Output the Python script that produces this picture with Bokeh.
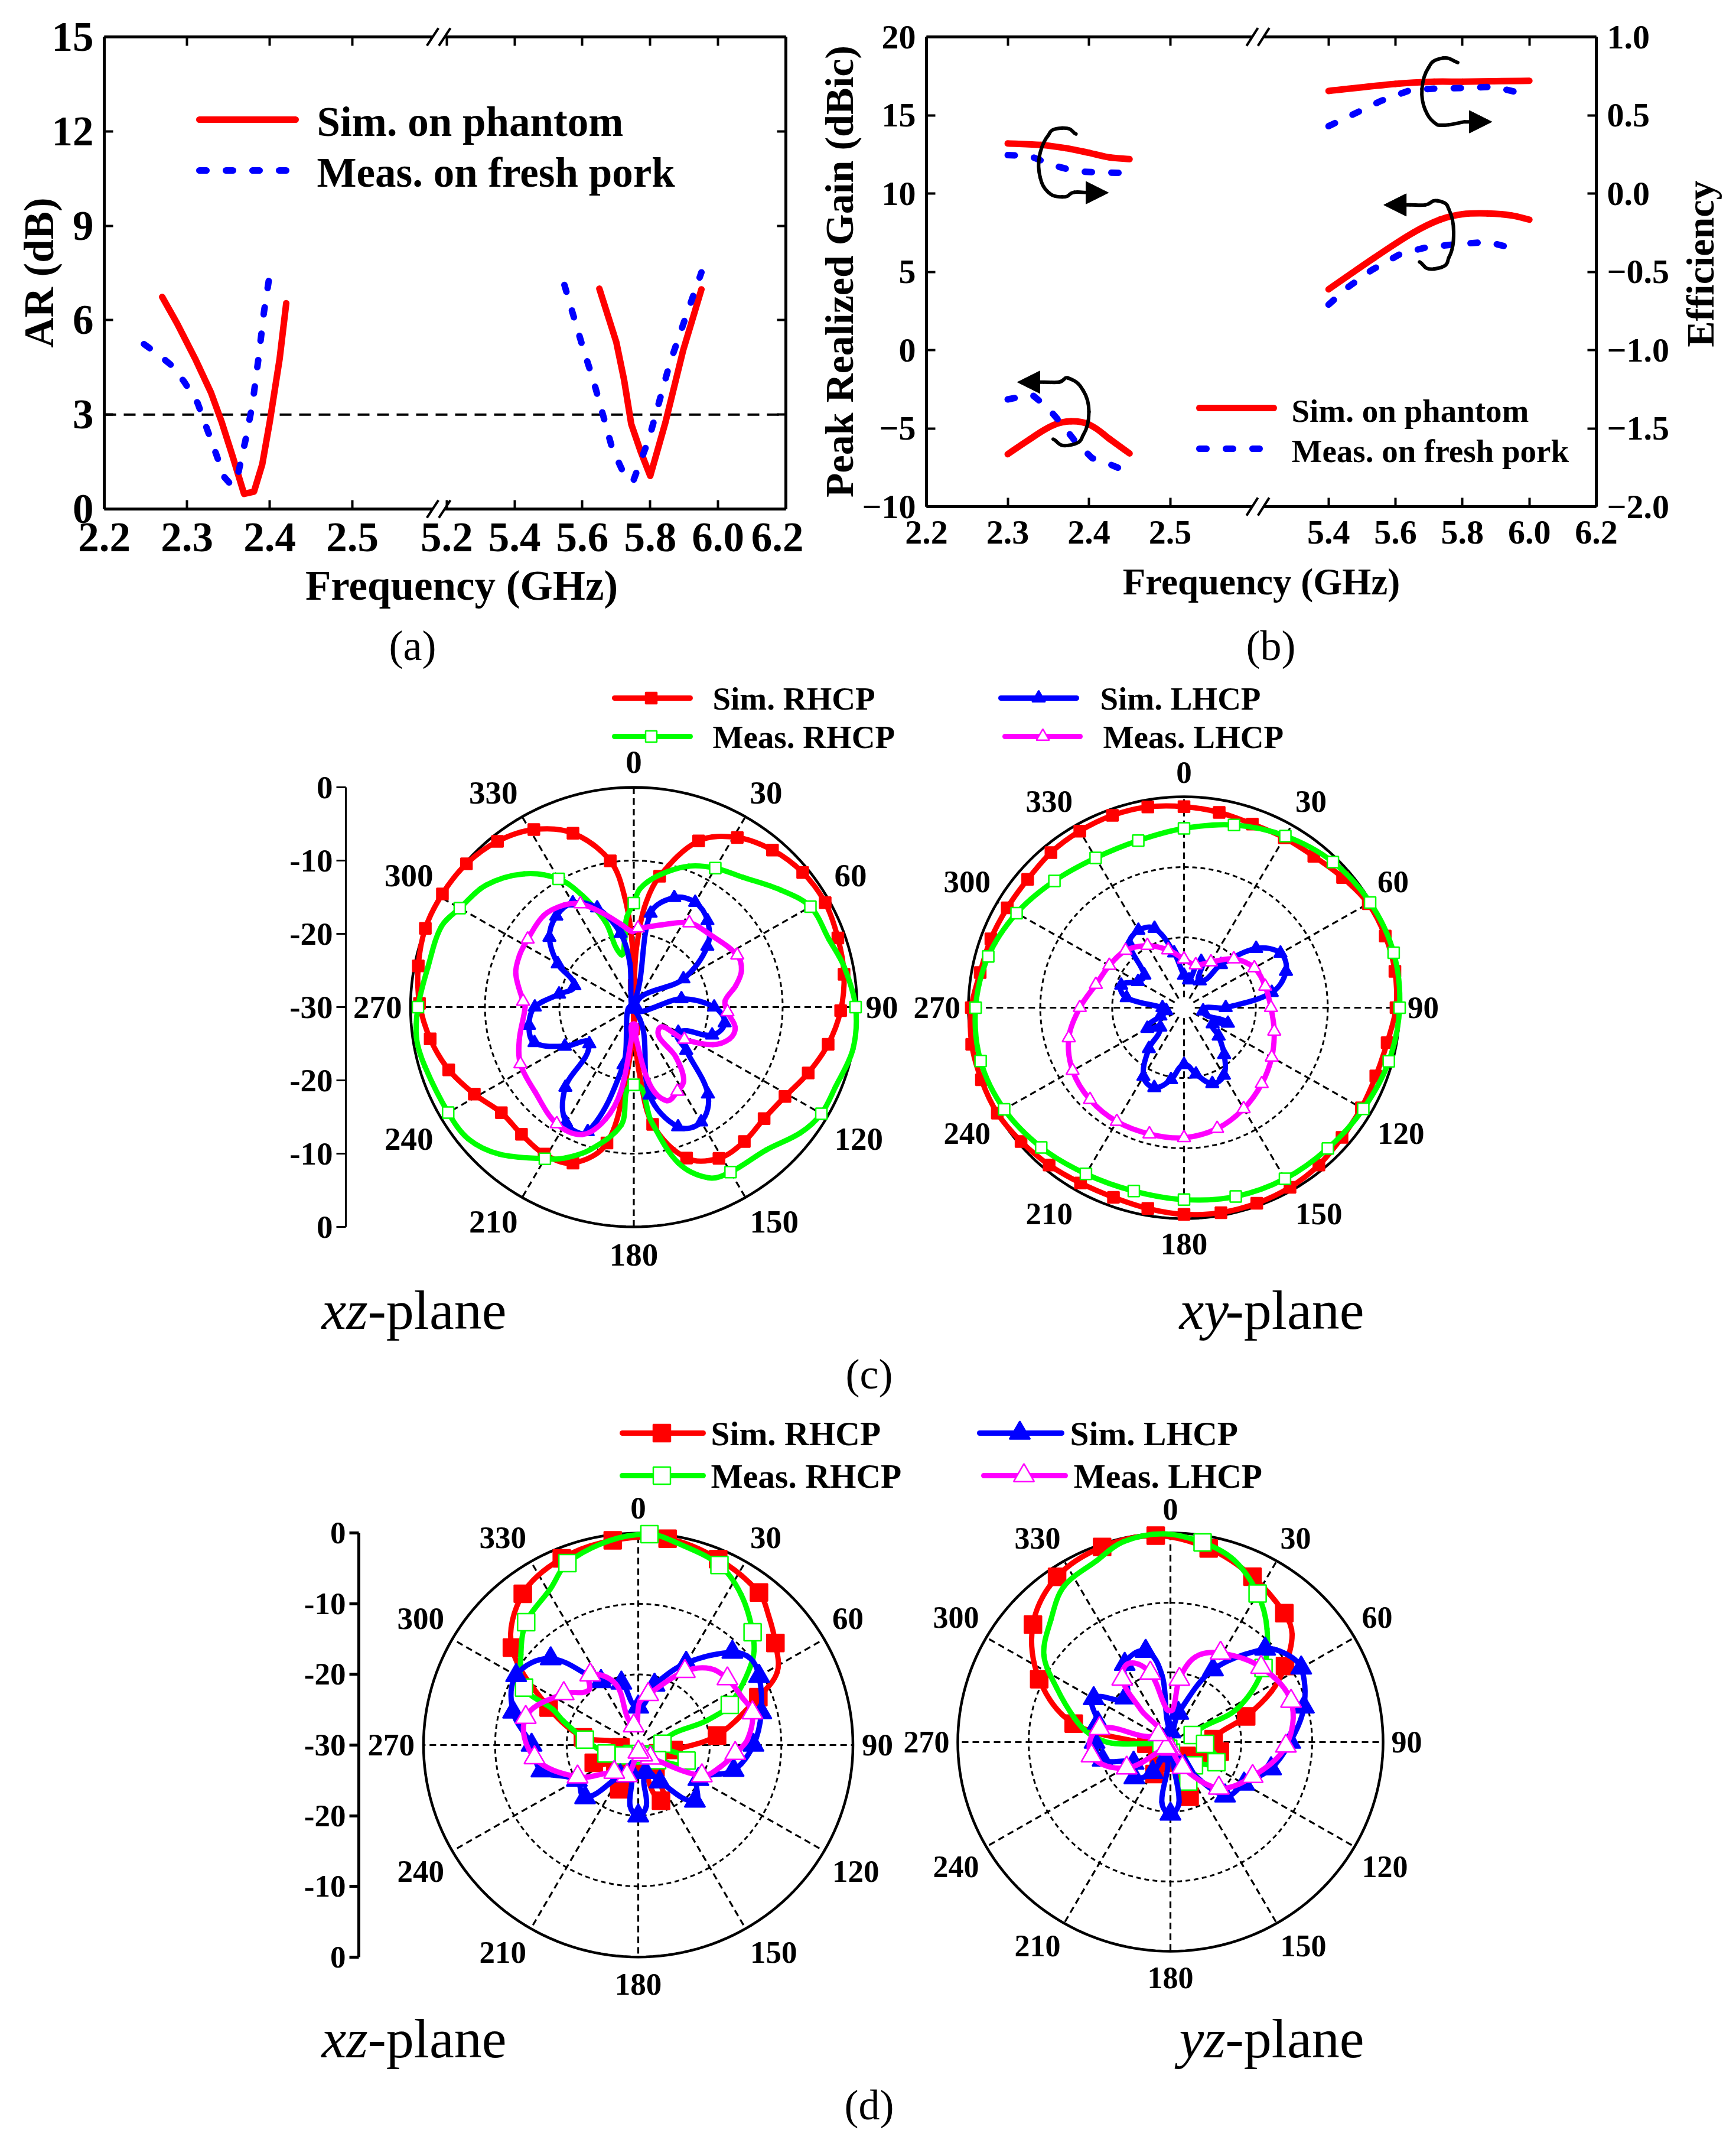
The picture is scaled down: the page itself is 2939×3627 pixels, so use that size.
import numpy as np
from bokeh.plotting import figure
from bokeh.layouts import column, row
from bokeh.models import Range1d, LinearAxis, FixedTicker, Label, Arrow, NormalHead
from bokeh.core.properties import value
from bokeh.embed import file_html
from bokeh.resources import INLINE

FONT = "Liberation Serif"
RED, GREEN, BLUE, MAG = "#ff0000", "#00ff00", "#0000ff", "#ff00ff"

# ---------- panel (a): axial ratio ----------
a_sim_low_f = [2.27, 2.288, 2.31, 2.329, 2.342, 2.355, 2.369, 2.381, 2.391, 2.40, 2.412, 2.42]
a_sim_low_v = [6.74, 5.9, 4.77, 3.7, 2.76, 1.69, 0.48, 0.55, 1.42, 2.76, 4.77, 6.54]
a_mea_low_f = [2.248, 2.266, 2.281, 2.297, 2.313, 2.323, 2.336, 2.345, 2.354, 2.361, 2.371, 2.379, 2.387, 2.393, 2.40]
a_mea_low_v = [5.24, 4.9, 4.57, 4.03, 3.36, 2.63, 1.69, 1.02, 0.75, 1.02, 2.22, 3.3, 4.9, 6.25, 7.45]
a_sim_hi_f = [5.65, 5.70, 5.723, 5.744, 5.772, 5.80, 5.845, 5.897, 5.951]
a_sim_hi_v = [7.0, 5.3, 4.1, 2.7, 1.82, 1.05, 2.76, 5.04, 6.98]
a_mea_hi_f = [5.547, 5.578, 5.604, 5.632, 5.663, 5.687, 5.718, 5.749, 5.768, 5.796, 5.827, 5.858, 5.905, 5.951]
a_mea_hi_v = [7.12, 5.98, 5.04, 4.1, 2.9, 1.96, 1.22, 0.86, 1.42, 2.22, 3.43, 4.64, 6.11, 7.52]
a_xticks_low = [2.2, 2.3, 2.4, 2.5]
a_xticks_hi = [5.2, 5.4, 5.6, 5.8, 6.0, 6.2]
a_yticks = [0, 3, 6, 9, 12, 15]

# ---------- panel (b): gain and efficiency ----------
b_eff_sim_low_f = [2.3, 2.341, 2.371, 2.4, 2.426, 2.45]
b_eff_sim_low_v = [0.32, 0.31, 0.29, 0.26, 0.23, 0.22]
b_eff_mea_low_f = [2.3, 2.327, 2.356, 2.385, 2.415, 2.447]
b_eff_mea_low_v = [0.245, 0.24, 0.18, 0.14, 0.135, 0.13]
b_gain_sim_low_f = [2.3, 2.327, 2.356, 2.378, 2.4, 2.426, 2.45]
b_gain_sim_low_v = [-6.65, -5.7, -4.8, -4.55, -4.75, -5.7, -6.6]
b_gain_mea_low_f = [2.3, 2.33, 2.349, 2.367, 2.385, 2.404, 2.426, 2.444]
b_gain_mea_low_v = [-3.15, -2.85, -3.67, -4.75, -5.95, -6.9, -7.3, -7.7]
b_eff_sim_hi_f = [5.4, 5.6, 5.715, 5.8, 5.893, 6.0]
b_eff_sim_hi_v = [0.655, 0.70, 0.714, 0.714, 0.717, 0.72]
b_eff_mea_hi_f = [5.4, 5.475, 5.555, 5.644, 5.715, 5.8, 5.893, 5.985]
b_eff_mea_hi_v = [0.43, 0.507, 0.59, 0.66, 0.67, 0.674, 0.682, 0.636]
b_gain_sim_hi_f = [5.4, 5.537, 5.653, 5.733, 5.8, 5.875, 5.946, 6.0]
b_gain_sim_hi_v = [3.88, 5.9, 7.5, 8.33, 8.68, 8.73, 8.6, 8.33]
b_gain_mea_hi_f = [5.4, 5.457, 5.528, 5.617, 5.697, 5.786, 5.875, 5.964]
b_gain_mea_hi_v = [2.9, 4.0, 5.1, 6.17, 6.58, 6.77, 6.9, 6.44]
b_xticks_low = [2.2, 2.3, 2.4, 2.5]
b_xticks_hi = [5.4, 5.6, 5.8, 6.0, 6.2]
b_yticks = [-10, -5, 0, 5, 10, 15, 20]
b_rticks = [-2.0, -1.5, -1.0, -0.5, 0.0, 0.5, 1.0]
# hand-drawn curly arrows of panel (b): axis position, gain
arrow1_u = [1.84, 1.67, 1.50, 1.39, 1.40, 1.50, 1.67, 1.82, 2.0]
arrow1_g = [13.8, 14.18, 13.72, 12.37, 11.02, 10.08, 9.78, 10.08, 10.05]
arrow2_u = [6.54, 6.36, 6.18, 6.10, 6.14, 6.29, 6.43, 6.62]
arrow2_g = [18.36, 18.65, 18.03, 16.68, 15.34, 14.39, 14.39, 14.58]
arrow3_u = [5.96, 6.14, 6.29, 6.43, 6.49, 6.43, 6.25, 6.07]
arrow3_g = [9.27, 9.27, 9.54, 9.0, 7.52, 5.9, 5.18, 5.63]
arrow4_u = [1.45, 1.63, 1.74, 1.93, 2.0, 1.93, 1.74, 1.56]
arrow4_g = [-2.05, -2.05, -1.78, -2.59, -3.94, -5.42, -6.09, -5.69]

# ---------- polar panels: angle (deg) and level above the -30 dB centre ----------
c1_sim_r_th = [1, 2.5, 6, 11, 21, 31, 41, 51, 61, 71, 81, 91, 101, 111, 121, 131, 141, 151, 161, 171, 175, 178, 179.7, 181, 186,
               191, 201, 211, 221, 231, 241, 251, 261, 271, 281, 291, 301, 311, 321, 331, 341, 351, 355.4, 358.6, 359.7]
c1_sim_r_l = [3, 8, 13.7, 18.2, 24.3, 27, 28.4, 29.2, 29.4, 29, 28.6, 27.8, 26.6, 25.1, 23.7, 23.2, 23.6, 23.6, 21.8, 16.2, 9.5, 4.3, 0.3, 3, 9.5,
              18.9, 22.8, 23.4, 23, 22.9, 24.5, 26.3, 27.7, 28.8, 29.5, 30, 30, 29.8, 29.1, 27.7, 25.1, 20.2, 15, 8.5, 0.3]
c1_mea_r_th = [0, 3, 10.6, 21, 30, 39.6, 51, 60, 70.5, 79, 90, 101, 112, 120, 127.5, 137.6, 150, 156.6, 164.3, 171.4, 180, 186, 196.7, 204.6,
               210, 222, 231, 240, 253.7, 261.6, 270, 281, 293, 300, 310, 321, 330, 335.6, 341.9, 346.4, 352.2, 355.4]
c1_mea_r_l = [14.2, 16.2, 18.3, 20.6, 21.9, 23, 25.4, 27.4, 27.8, 28.8, 29.8, 30, 29.2, 29.1, 28.2, 26.4, 26, 25.4, 22.1, 15.8, 10.6, 16.2, 20.3, 22.7,
              23.9, 27, 28.6, 28.8, 29.2, 29.5, 29, 28.2, 28.1, 27, 25.9, 23.4, 20.2, 16.7, 12.2, 7.4, 9.1, 12.2]
c1_sim_l_th = [0, 10, 20, 30, 40, 50, 60, 70, 80, 90, 100, 110, 120, 130, 140, 150, 160, 170, 180, 190, 200, 210, 220, 230, 240, 250, 260, 270,
               280, 290, 300, 310, 320, 330, 340, 350, 355]
c1_sim_l_l = [0.5, 13, 15.9, 16.5, 15.4, 12.9, 7.7, 0.3, 6.5, 10.8, 12.4, 11.2, 6.9, 9.2, 15.5, 18.1, 17.4, 12.2, 0.3, 8, 18.1, 18.2, 14.3, 7.8, 10.7, 14.2, 14.3, 13.3,
              10.2, 8.5, 11.8, 14.8, 16.2, 16.4, 14.4, 10.2, 6]
c1_mea_l_th = [3, 8, 19, 33, 45, 63, 71, 78, 86, 93, 101.5, 108.5, 115.7, 123, 131.8, 140.4, 146, 153, 161, 168.6, 176, 180, 184, 188.6, 194, 201.6, 213, 229,
               243, 254, 270, 273, 286, 294.5, 303, 316, 326, 333, 341.5, 351, 359]
c1_mea_l_l = [10.8, 11, 11.9, 13.7, 14.2, 15.6, 15.3, 14, 12.3, 12.6, 13.9, 13.6, 11.8, 8.1, 4.5, 8.9, 12, 12.9, 13.5, 10.7, 4.3, 2.3, 4.3, 11.6, 15.8, 18.7, 19, 17.6,
              17.1, 16, 14.6, 14.9, 16.5, 16.9, 17, 17.4, 16.8, 15.8, 13.6, 11.5, 10.3]

c2_sim_r_th = list(range(0, 360, 10))
c2_sim_r_l = [28.6, 28.2, 27.8, 27.9, 28.1, 28.8, 29.6, 29.8, 29.8, 29.5, 28.7, 28.4, 28.5, 28.7, 29.2, 29.5, 29.6, 29.6, 29.4, 29, 28.7, 28.8,
              29.2, 29.6, 30, 30, 30, 29.6, 28.8, 28.6, 28.4, 28.4, 28.8, 29, 29.1, 29]
c2_mea_r_th = list(range(0, 360, 15))
c2_mea_r_l = [25.5, 26.9, 28.2, 29.3, 29.9, 30.2, 30, 29.5, 28.8, 28.3, 28.1, 27.8, 27.3, 27, 27.3, 28.1, 28.9, 29.3, 29, 28.2, 26.9, 25.5, 24.6, 24.6]
c2_sim_l_th = list(range(0, 360, 10))
c2_sim_l_l = [4.6, 4, 7, 4.4, 8, 13.1, 15.5, 15.1, 12.4, 5.8, 2.7, 6.5, 4.6, 6.3, 8.7, 11.1, 11.5, 9.6, 8.1, 10.4, 12.1, 11.3, 7.6, 4.3, 5.9, 3.5, 2.5, 3,
              8.1, 9.3, 7.4, 7.2, 11.8, 12.7, 12, 7.9]
c2_mea_l_th = list(range(0, 360, 15))
c2_mea_l_l = [6.9, 6.3, 7.5, 9.8, 11.3, 11.7, 12.1, 13, 14.1, 15.3, 16.6, 17.8, 18.5, 18.6, 18.7, 18.5, 17.9, 16.6, 14.5, 12.7, 12, 11.5, 10.2, 8.5]

d1_sim_r_th = [8, 23, 38, 45, 53, 62, 68, 83, 98, 113, 128, 143, 158, 173, 188, 203, 218, 233, 248, 263, 278, 293, 308, 323, 338, 353]
d1_sim_r_l = [29.5, 28.6, 27.4, 25.8, 24, 22, 18.1, 11.1, 5, 3, 2.5, 4, 8.5, 2, 3, 6.8, 3, 4, 6.7, 2.5, 7.8, 13.6, 22.4, 26.8, 28.5, 29.2]
d1_mea_r_th = [3, 10, 24, 34, 45, 53, 66, 70, 87, 108, 129, 150, 171, 192, 213, 234, 255, 276, 288, 293, 297, 308, 318, 331, 339, 352]
d1_mea_r_l = [29.9, 29.2, 27.9, 25.7, 22.6, 20, 14, 10.3, 3.4, 7.1, 3.4, 1.5, 1.5, 1.5, 1.5, 2.5, 4.6, 7.5, 11, 13, 17.9, 20.8, 23.4, 25.3, 27.6, 29.2]
d1_sim_l_th = [0, 15, 30, 45, 52, 60, 75, 90, 105, 120, 135, 150, 165, 172.5, 180, 187.5, 195, 210, 225, 240, 255, 270, 285, 300, 315, 330, 345]
d1_sim_l_l = [5.4, 8.8, 13.4, 18.6, 19.9, 19.5, 17.8, 16.1, 13.8, 9.7, 11.2, 6, 4, 8.7, 10, 8.7, 4, 5, 10.5, 9.9, 14, 14.9, 18.1, 19.7, 17.3, 10.4, 9.1]
d1_mea_l_th = [1.5, 11, 32, 43, 53, 65, 74, 87, 95, 105, 116, 137, 158, 179, 200, 221, 242, 263, 284, 305, 318, 326, 340, 347]
d1_mea_l_l = [6, 7.3, 12.3, 14.8, 15.6, 16, 16.6, 15.3, 13.6, 11.9, 9.9, 2.5, 1.5, 1, 4.6, 5.1, 9.6, 14.6, 16.2, 12.7, 10.4, 12, 9.2, 2.8]

d2_sim_r_th = [11, 26, 41, 48, 56, 63, 71, 86, 101, 116, 131, 146, 161, 176, 191, 206, 221, 236, 251, 266, 281, 296, 311, 326, 341, 356]
d2_sim_r_l = [28.3, 26.4, 24.5, 23.1, 19.5, 16, 11.3, 6.1, 7.1, 4.9, 3, 4, 8.3, 2, 3, 5.1, 2.5, 2, 2, 3.4, 13.9, 20.6, 25.7, 28.6, 29.6, 29.7]
d2_mea_r_th = [9, 19, 30, 40, 51, 63, 72, 93, 114, 135, 156, 177, 198, 219, 240, 261, 269, 276, 284, 296, 305, 316, 326, 338, 347, 358]
d2_mea_r_l = [29, 27.6, 24.6, 21.2, 16.9, 10.6, 3.3, 4.9, 7.1, 4.7, 6.2, 1.5, 1, 1, 1, 1.3, 8.3, 11.5, 13.9, 17.9, 21.8, 24.3, 26.9, 28, 29.5, 29.9]
d2_sim_l_th = [0, 15, 30, 45, 52, 60, 75, 90, 105, 120, 135, 150, 165, 172, 180, 188, 195, 210, 225, 240, 255, 270, 285, 300, 315, 330, 345, 353]
d2_sim_l_l = [1.5, 4.3, 12, 18.9, 20.6, 21.3, 19.5, 16.9, 14.7, 12, 10.9, 4, 2, 8.7, 10.3, 8.7, 2, 5, 7.2, 6, 9.9, 10.7, 10.6, 12.5, 9, 12.9, 13.5, 9.6]
d2_mea_l_th = [4, 8, 16, 29, 50, 71, 92, 113, 134, 155, 176, 197, 218, 239, 260, 281, 302, 318, 323, 333, 344, 354]
d2_mea_l_l = [4.7, 9.1, 12.7, 14.6, 16.7, 18, 16.3, 12.6, 9.5, 4, 1, 1, 1, 7.2, 11.3, 10.2, 2, 6.2, 11.3, 12.7, 10.3, 4.7]

angle_ticks = list(range(0, 360, 30))
level_ticks = [30, 20, 10, 0, -10, -20, -30]
level_labels = ["0", "-10", "-20", "-30", "-20", "-10", "0"]

ROW1_H = 1145
ROW2_END = 2372
PAGE_BOTTOM = 3611
SPLIT_D = 1527


def ft(size):
    return f"{size}px"


def smooth(p, x, y, closed=False, **kw):
    """Stroke a curve through the read points as bezier segments (rendering only)."""
    x, y = np.asarray(x, float), np.asarray(y, float)
    n = len(x)
    if closed:
        prev_i, next_i = (np.arange(n) - 1) % n, (np.arange(n) + 1) % n
        ends = np.arange(n)
    else:
        prev_i, next_i = np.maximum(np.arange(n) - 1, 0), np.minimum(np.arange(n) + 1, n - 1)
        ends = np.arange(n - 1)
    tx, ty = x[next_i] - x[prev_i], y[next_i] - y[prev_i]
    norm = np.hypot(tx, ty)
    norm[norm == 0] = 1
    tx, ty = tx / norm, ty / norm
    j = (ends + 1) % n
    seg = np.hypot(x[j] - x[ends], y[j] - y[ends]) / 3
    p.bezier(x0=x[ends], y0=y[ends], x1=x[j], y1=y[j],
             cx0=x[ends] + tx[ends] * seg, cy0=y[ends] + ty[ends] * seg,
             cx1=x[j] - tx[j] * seg, cy1=y[j] - ty[j] * seg, line_cap="round", **kw)


def xy_axis(ax, size, standoff, lw=5, ticks_in=15):
    ax.major_label_text_font = FONT
    ax.major_label_text_font_style = "bold"
    ax.major_label_text_font_size = ft(size)
    ax.major_label_text_color = "black"
    ax.major_label_standoff = standoff
    ax.axis_line_width = lw
    ax.axis_line_color = "black"
    ax.major_tick_line_width = 4
    ax.major_tick_line_color = "black"
    ax.major_tick_in = ticks_in
    ax.major_tick_out = 0
    ax.minor_tick_line_color = None


def blank_axis(ticks, at, bounds):
    ax = LinearAxis(ticker=FixedTicker(ticks=ticks), major_label_overrides={t: "" for t in ticks},
                    fixed_location=at, bounds=bounds)
    xy_axis(ax, 10, 0)
    return ax


def label(p, x, y, text, size, bold=True, angle=0, align="center", italic=False):
    style = "bold" if bold else ("italic" if italic else "normal")
    p.add_layout(Label(x=x, y=y, text=text, text_font=FONT, text_font_style=style, text_font_size=ft(size),
                       text_align=align, text_baseline="middle", angle=angle, text_color="black"))


def slash(p, x0, y0, x1, y1, color="black", w=4):
    p.add_layout(Arrow(end=None, x_start=x0, y_start=y0, x_end=x1, y_end=y1, line_color=color, line_width=w))


# ---------- panel (a) ----------
def ua(f):
    f = np.asarray(f, dtype=float)
    return np.where(f < 3, (f - 2.2) / 0.1, 4.14 + (f - 5.2) * 4.1)


A_L, A_R, A_T, A_B = 176, 1330, 62, 861
Apx = lambda x: (x - A_L) / (A_R - A_L) * 8.24
Apy = lambda y: (A_B - y) / (A_B - A_T) * 15
pa = figure(width=1360, height=ROW1_H, x_range=Range1d(Apx(0), Apx(1360)), y_range=Range1d(Apy(ROW1_H), Apy(0)),
            output_backend="svg", toolbar_location=None, min_border=0, outline_line_color=None,
            x_axis_location=None, y_axis_location=None)
pa.grid.visible = False
ax_ticks = [round(float(v), 2) for v in ua(a_xticks_low + a_xticks_hi)]
ax_bottom = LinearAxis(ticker=FixedTicker(ticks=ax_ticks), fixed_location=0, bounds=(0, 8.24),
                       major_label_overrides=dict(zip(ax_ticks, [f"{v:.1f}" for v in a_xticks_low + a_xticks_hi])))
ax_left = LinearAxis(ticker=FixedTicker(ticks=a_yticks), fixed_location=0, bounds=(0, 15))
xy_axis(ax_bottom, 71, 24)
xy_axis(ax_left, 71, 18)
pa.add_layout(ax_bottom, "below")
pa.add_layout(ax_left, "left")
pa.add_layout(blank_axis(ax_ticks, 15, (0, 8.24)), "above")
pa.add_layout(blank_axis(a_yticks, 8.24, (0, 15)), "right")

pa.line([0, 8.24], [3, 3], line_color="black", line_width=4, line_dash="20 13")
for f, v in [(a_sim_low_f, a_sim_low_v), (a_sim_hi_f, a_sim_hi_v)]:
    pa.line(ua(f), v, line_color=RED, line_width=11, line_join="round", line_cap="round")
for f, v in [(a_mea_low_f, a_mea_low_v), (a_mea_hi_f, a_mea_hi_v)]:
    pa.line(ua(f), v, line_color=BLUE, line_width=11, line_dash="12 33", line_cap="round", line_join="round")
pa.line([Apx(337), Apx(500)], [Apy(202)] * 2, line_color=RED, line_width=11, line_cap="round")
pa.line([Apx(337), Apx(492)], [Apy(288)] * 2, line_color=BLUE, line_width=11, line_dash="12 33", line_cap="round")
label(pa, Apx(536), Apy(205), "Sim. on phantom", 71, align="left")
label(pa, Apx(536), Apy(291), "Meas. on fresh pork", 71, align="left")
label(pa, Apx(781), Apy(990), "Frequency (GHz)", 71)
label(pa, Apx(65), Apy(461), "AR (dB)", 71, angle=np.pi / 2)
label(pa, Apx(698), Apy(1092), "(a)", 72, bold=False)
for yb in (15, 0):
    slash(pa, 3.97, yb, 4.115, yb, "white", 10)
    for xc in (3.97, 4.115):
        slash(pa, xc - 0.07, yb - 0.28, xc + 0.07, yb + 0.28)


# ---------- panel (b) ----------
def ub(f):
    f = np.asarray(f, dtype=float)
    return np.where(f < 3, (f - 2.2) / 0.1, 4.95 + (f - 5.4) * 4.12)


B_L, B_R, B_T, B_B = 1568, 2702, 62, 857
Bpx = lambda x: (x - B_L) / (B_R - B_L) * 8.246
Bpy = lambda y: (B_B - y) / (B_B - B_T) * 30 - 10
pb = figure(width=1563, height=ROW1_H, x_range=Range1d(Bpx(1360), Bpx(2923)), y_range=Range1d(Bpy(ROW1_H), Bpy(0)),
            output_backend="svg", toolbar_location=None, min_border=0, outline_line_color=None,
            x_axis_location=None, y_axis_location=None)
pb.grid.visible = False
eff_of_gain = lambda g: (g + 10) / 30 * 3 - 2
pb.extra_y_ranges = {"eff": Range1d(eff_of_gain(Bpy(ROW1_H)), eff_of_gain(Bpy(0)))}
bx_ticks = [round(float(v), 3) for v in ub(b_xticks_low + b_xticks_hi)]
bx_bottom = LinearAxis(ticker=FixedTicker(ticks=bx_ticks), fixed_location=-10, bounds=(0, 8.246),
                       major_label_overrides=dict(zip(bx_ticks, [f"{v:.1f}" for v in b_xticks_low + b_xticks_hi])))
bx_left = LinearAxis(ticker=FixedTicker(ticks=b_yticks), fixed_location=0, bounds=(-10, 20),
                     major_label_overrides={v: str(v).replace("-", "\u2212") for v in b_yticks})
xy_axis(bx_bottom, 58, 24)
xy_axis(bx_left, 58, 18)
pb.add_layout(bx_bottom, "below")
pb.add_layout(bx_left, "left")
pb.add_layout(blank_axis(bx_ticks, 20, (0, 8.246)), "above")
rax = LinearAxis(y_range_name="eff", ticker=FixedTicker(ticks=b_rticks), fixed_location=8.246, bounds=(-2, 1),
                 major_label_overrides={v: f"{v:.1f}".replace("-", "\u2212") for v in b_rticks})
xy_axis(rax, 58, 18)
pb.add_layout(rax, "right")

for f, v in [(b_eff_sim_low_f, b_eff_sim_low_v), (b_eff_sim_hi_f, b_eff_sim_hi_v)]:
    smooth(pb, ub(f), v, y_range_name="eff", line_color=RED, line_width=11)
for f, v in [(b_gain_sim_low_f, b_gain_sim_low_v), (b_gain_sim_hi_f, b_gain_sim_hi_v)]:
    smooth(pb, ub(f), v, line_color=RED, line_width=11)
for f, v in [(b_eff_mea_low_f, b_eff_mea_low_v), (b_eff_mea_hi_f, b_eff_mea_hi_v)]:
    pb.line(ub(f), v, y_range_name="eff", line_color=BLUE, line_width=11, line_dash="12 33", line_cap="round", line_join="round")
for f, v in [(b_gain_mea_low_f, b_gain_mea_low_v), (b_gain_mea_hi_f, b_gain_mea_hi_v)]:
    pb.line(ub(f), v, line_color=BLUE, line_width=11, line_dash="12 33", line_cap="round", line_join="round")
for au, ag, tip in [(arrow1_u, arrow1_g, (2.24, 10.05)), (arrow2_u, arrow2_g, (6.96, 14.58))]:
    smooth(pb, au, ag, line_color="black", line_width=6)
    pb.add_layout(Arrow(end=NormalHead(size=38, fill_color="black", line_color="black"), x_start=au[-1], y_start=ag[-1],
                        x_end=tip[0], y_end=tip[1], line_color="black", line_width=6))
for au, ag, tip in [(arrow3_u, arrow3_g, (5.63, 9.27)), (arrow4_u, arrow4_g, (1.12, -2.05))]:
    smooth(pb, au, ag, line_color="black", line_width=6)
    pb.add_layout(Arrow(end=NormalHead(size=38, fill_color="black", line_color="black"), x_start=au[0], y_start=ag[0],
                        x_end=tip[0], y_end=tip[1], line_color="black", line_width=6))
pb.line([Bpx(2030), Bpx(2156)], [Bpy(690)] * 2, line_color=RED, line_width=11, line_cap="round")
pb.line([Bpx(2030), Bpx(2150)], [Bpy(759)] * 2, line_color=BLUE, line_width=11, line_dash="12 33", line_cap="round")
label(pb, Bpx(2186), Bpy(695), "Sim. on phantom", 55, align="left")
label(pb, Bpx(2186), Bpy(763), "Meas. on fresh pork", 55, align="left")
label(pb, Bpx(2135), Bpy(984), "Frequency (GHz)", 63)
label(pb, Bpx(1420), Bpy(459), "Peak Realized Gain (dBic)", 68, angle=np.pi / 2)
label(pb, Bpx(2878), Bpy(446), "Efficiency", 66, angle=np.pi / 2)
label(pb, Bpx(2151), Bpy(1092), "(b)", 72, bold=False)
for yb in (20, -10):
    slash(pb, 4.01, yb, 4.15, yb, "white", 10)
    for xc in (4.01, 4.15):
        slash(pb, xc - 0.07, yb - 0.57, xc + 0.07, yb + 0.57)


# ---------- polar panels ----------
def polar_panel(x0, y0, w, h, cx, cy, rx, ry, bar_x, label_off, tick_size, font_legend, msq, mtri, lw, series,
                legend, plane, plane_x, plane_y, tag=None, bar_width=3):
    kx, ky = rx / 30, ry / 30
    X = lambda px: (px - cx) / kx
    Y = lambda py: (cy - py) / ky
    p = figure(width=w, height=h, x_range=Range1d(X(x0), X(x0 + w)), y_range=Range1d(Y(y0 + h), Y(y0)),
               output_backend="svg", toolbar_location=None, min_border=0, outline_line_color=None,
               x_axis_location=None, y_axis_location=None)
    p.grid.visible = False
    # grid
    t = np.radians(np.arange(0, 361, 2))
    for lev in (10, 20):
        p.line(lev * np.sin(t), lev * np.cos(t), line_color="black", line_width=3, line_dash="8 6")
    for ang in angle_ticks:
        a = np.radians(ang)
        p.line([1.5 * np.sin(a), 30 * np.sin(a)], [1.5 * np.cos(a), 30 * np.cos(a)], line_color="black", line_width=3.2, line_dash="11 7")
    p.line(30 * np.sin(t), 30 * np.cos(t), line_color="black", line_width=4.5)
    # angle labels: three-digit labels sit a half digit further out
    dx30, dy30, dx60, dy60, dx90, dy0, dy180 = label_off
    e = 0.25 * tick_size
    off = {0: (0, dy0), 30: (dx30, dy30), 60: (dx60, dy60), 90: (dx90, 0), 120: (dx60 + e, -dy60), 150: (dx30 + e, -dy30),
           180: (0, -dy180), 210: (-dx30 - e, -dy30), 240: (-dx60 - e, -dy60), 270: (-dx90 - e, 0), 300: (-dx60 - e, dy60), 330: (-dx30 - e, dy30)}
    p.text([off[a][0] / kx for a in angle_ticks], [off[a][1] / ky for a in angle_ticks], text=[str(a) for a in angle_ticks],
           text_font=value(FONT), text_font_style="bold", text_font_size=ft(tick_size), text_align="center",
           text_baseline="middle", text_color="black")
    # series
    for th, lev, col, kind, start, step in series:
        th = np.array(th, dtype=float)
        lev = np.array(lev, dtype=float)
        a = np.radians(th)
        smooth(p, lev * np.sin(a), lev * np.cos(a), closed=True, line_color=col, line_width=lw)
        mask = np.isclose((th - start) % step, 0)
        a = np.radians(th[mask])
        l = lev[mask]
        mk = "square" if kind[0] == "s" else "triangle"
        fill = col if kind[1] == "f" else "white"
        size = msq if kind[0] == "s" else mtri
        p.scatter(l * np.sin(a), l * np.cos(a), marker=mk, size=size, fill_color=fill, line_color=col, line_width=2.5)
    # legend
    for (lx0, lx1, mx, ly, tx, col, kind, txt) in legend:
        p.line([X(lx0), X(lx1)], [Y(ly)] * 2, line_color=col, line_width=lw, line_cap="round")
        mk = "square" if kind[0] == "s" else "triangle"
        fill = col if kind[1] == "f" else "white"
        size = msq if kind[0] == "s" else mtri
        p.scatter([X(mx)], [Y(ly)], marker=mk, size=size, fill_color=fill, line_color=col, line_width=2.5)
        label(p, X(tx), Y(ly + 1), txt, font_legend, align="left")
    # radial scale bar
    if bar_x is not None:
        bar = LinearAxis(fixed_location=X(bar_x), ticker=FixedTicker(ticks=level_ticks), bounds=(-30, 30),
                         major_label_overrides=dict(zip(level_ticks, level_labels)))
        bar.major_label_text_font = FONT
        bar.major_label_text_font_style = "bold"
        bar.major_label_text_font_size = ft(tick_size)
        bar.major_label_text_color = "black"
        bar.major_label_standoff = 6
        bar.axis_line_width = bar_width
        bar.major_tick_line_width = bar_width
        bar.major_tick_in = 0
        bar.major_tick_out = 16
        bar.minor_tick_line_color = None
        p.add_layout(bar, "left")
    # plane caption
    label(p, X(plane_x), Y(plane_y), plane[0], 94, bold=False, italic=True, align="left")
    label(p, X(plane_x + 78), Y(plane_y), plane[1], 94, bold=False, align="left")
    if tag:
        label(p, X(1471), Y(tag[1]), tag[0], 72, bold=False)
    return p


c_legend_l = [(1040, 1168, 1102, 1181, 1206, RED, "sf", "Sim. RHCP"), (1040, 1168, 1102, 1246, 1206, GREEN, "so", "Meas. RHCP")]
c_legend_r = [(1694, 1822, 1758, 1181, 1862, BLUE, "tf", "Sim. LHCP"), (1701, 1828, 1765, 1246, 1867, MAG, "to", "Meas. LHCP")]
d_legend_l = [(1053, 1190, 1120, 2425, 1203, RED, "sf", "Sim. RHCP"), (1053, 1190, 1120, 2497, 1203, GREEN, "so", "Meas. RHCP")]
d_legend_r = [(1658, 1797, 1726, 2425, 1811, BLUE, "tf", "Sim. LHCP"), (1665, 1803, 1733, 2497, 1817, MAG, "to", "Meas. LHCP")]

pc1 = polar_panel(0, ROW1_H, 1525, ROW2_END - ROW1_H, 1072.5, 1704, 378, 372, 585, (224, 363, 367, 223, 420, 415, 419), 55, 55, 19, 22, 9,
                  [(c1_sim_r_th, c1_sim_r_l, RED, "sf", 1, 10), (c1_mea_r_th, c1_mea_r_l, GREEN, "so", 0, 30),
                   (c1_sim_l_th, c1_sim_l_l, BLUE, "tf", 0, 10), (c1_mea_l_th, c1_mea_l_l, MAG, "to", 3, 30)],
                  c_legend_l, ("xz", "-plane"), 544, 2216, tag=("(c)", 2325))
pc2 = polar_panel(1525, ROW1_H, 1398, ROW2_END - ROW1_H, 2004, 1705, 365, 357, None, (215, 349, 354, 213, 405, 398, 400), 53, 55, 19, 22, 9,
                  [(c2_sim_r_th, c2_sim_r_l, RED, "sf", 0, 10), (c2_mea_r_th, c2_mea_r_l, GREEN, "so", 0, 15),
                   (c2_sim_l_th, c2_sim_l_l, BLUE, "tf", 0, 10), (c2_mea_l_th, c2_mea_l_l, MAG, "to", 0, 15)],
                  c_legend_r, ("xy", "-plane"), 1996, 2216)
pd1 = polar_panel(0, ROW2_END, SPLIT_D, PAGE_BOTTOM - ROW2_END, 1080, 2953, 363.5, 358.7, 607, (216, 351, 355, 214, 405, 401, 405), 53, 57.5, 29, 35, 9,
                  [(d1_sim_r_th, d1_sim_r_l, RED, "sf", 8, 15), (d1_mea_r_th, d1_mea_r_l, GREEN, "so", 3, 21),
                   (d1_sim_l_th, d1_sim_l_l, BLUE, "tf", 0, 15), (d1_mea_l_th, d1_mea_l_l, MAG, "to", 11, 21)],
                  d_legend_l, ("xz", "-plane"), 544, 3449, tag=("(d)", 3562), bar_width=5)
pd2 = polar_panel(SPLIT_D, ROW2_END, 2923 - SPLIT_D, PAGE_BOTTOM - ROW2_END, 1981, 2948, 360, 354, None, (212, 345, 350, 211, 400, 394, 399), 52, 57.5, 29, 35, 9,
                  [(d2_sim_r_th, d2_sim_r_l, RED, "sf", 11, 15), (d2_mea_r_th, d2_mea_r_l, GREEN, "so", 9, 21),
                   (d2_sim_l_th, d2_sim_l_l, BLUE, "tf", 0, 15), (d2_mea_l_th, d2_mea_l_l, MAG, "to", 8, 21)],
                  d_legend_r, ("yz", "-plane"), 1996, 3449)

layout = column(row(pa, pb), row(pc1, pc2), row(pd1, pd2))
open("out.html", "w").write(file_html(layout, INLINE))
